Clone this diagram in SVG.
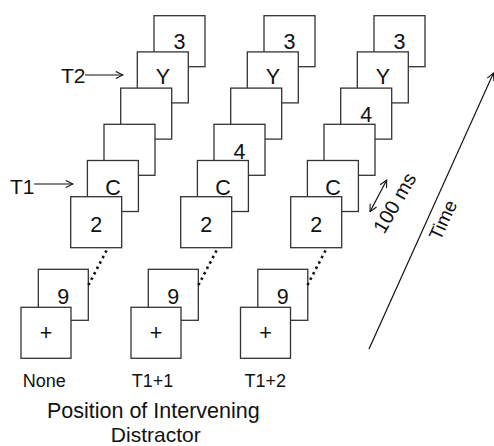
<svg xmlns="http://www.w3.org/2000/svg" width="494" height="446" viewBox="0 0 494 446">
<defs>
<style>
.box{fill:#fff;stroke:#333;stroke-width:1.3}
.lbl{font-family:"Liberation Sans",Arial,sans-serif;font-size:21.5px;fill:#111;text-anchor:middle}
.txt{font-family:"Liberation Sans",Arial,sans-serif;fill:#111}
.ln{stroke:#111;stroke-width:1.2;fill:none}
.dot{stroke:#111;stroke-width:2.6;stroke-dasharray:2.5 3.6;fill:none}
</style>
<marker id="oa" viewBox="0 0 10 10" refX="9" refY="5" markerWidth="9" markerHeight="9" markerUnits="userSpaceOnUse" orient="auto-start-reverse">
<path d="M1,1 L9,5 L1,9" fill="none" stroke="#111" stroke-width="1.2"/>
</marker>
</defs>
<rect width="494" height="446" fill="#fff"/>

<!-- Column 1 -->
<g id="col1">
<g id="c1-k5"><rect class="box" x="154" y="15.7" width="51" height="51"/><text class="lbl" x="179.5" y="48.7">3</text></g>
<g id="c1-k4"><rect class="box" x="137.3" y="51.9" width="51" height="51"/><text class="lbl" x="162.8" y="84.4">Y</text></g>
<g id="c1-k3"><rect class="box" x="120.7" y="88.1" width="51" height="51"/></g>
<g id="c1-k2"><rect class="box" x="104" y="124.3" width="51" height="51"/></g>
<g id="c1-k1"><rect class="box" x="87.4" y="160.5" width="51" height="51"/><text class="lbl" x="112.9" y="195">C</text></g>
<g id="c1-k0"><rect class="box" x="70.7" y="196.7" width="51" height="51"/><text class="lbl" x="96.2" y="231.5">2</text></g>
<g id="c1-nine"><rect class="box" x="38.3" y="269.3" width="50" height="51"/><text class="lbl" x="63.3" y="303.5">9</text></g>
<g id="c1-fix"><rect class="box" x="21" y="307.3" width="50" height="51"/><text class="lbl" x="46" y="340">+</text></g>
</g>

<!-- Column 2 -->
<g id="col2">
<g id="c2-k5"><rect class="box" x="264" y="15.7" width="51" height="51"/><text class="lbl" x="289.5" y="48.7">3</text></g>
<g id="c2-k4"><rect class="box" x="247.3" y="51.9" width="51" height="51"/><text class="lbl" x="272.8" y="84.4">Y</text></g>
<g id="c2-k3"><rect class="box" x="230.7" y="88.1" width="51" height="51"/></g>
<g id="c2-k2"><rect class="box" x="214" y="124.3" width="51" height="51"/><text class="lbl" x="239.5" y="158.6">4</text></g>
<g id="c2-k1"><rect class="box" x="197.4" y="160.5" width="51" height="51"/><text class="lbl" x="222.9" y="195">C</text></g>
<g id="c2-k0"><rect class="box" x="180.7" y="196.7" width="51" height="51"/><text class="lbl" x="206.2" y="231.5">2</text></g>
<g id="c2-nine"><rect class="box" x="148.3" y="269.3" width="50" height="51"/><text class="lbl" x="173.3" y="303.5">9</text></g>
<g id="c2-fix"><rect class="box" x="131" y="307.3" width="50" height="51"/><text class="lbl" x="156" y="340">+</text></g>
</g>

<!-- Column 3 -->
<g id="col3">
<g id="c3-k5"><rect class="box" x="374" y="15.7" width="51" height="51"/><text class="lbl" x="399.5" y="48.7">3</text></g>
<g id="c3-k4"><rect class="box" x="357.3" y="51.9" width="51" height="51"/><text class="lbl" x="382.8" y="84.4">Y</text></g>
<g id="c3-k3"><rect class="box" x="340.7" y="88.1" width="51" height="51"/><text class="lbl" x="366.2" y="122.4">4</text></g>
<g id="c3-k2"><rect class="box" x="324" y="124.3" width="51" height="51"/></g>
<g id="c3-k1"><rect class="box" x="307.4" y="160.5" width="51" height="51"/><text class="lbl" x="332.9" y="195">C</text></g>
<g id="c3-k0"><rect class="box" x="290.7" y="196.7" width="51" height="51"/><text class="lbl" x="316.2" y="231.5">2</text></g>
<g id="c3-nine"><rect class="box" x="257.8" y="269.3" width="50" height="51"/><text class="lbl" x="282.8" y="303.5">9</text></g>
<g id="c3-fix"><rect class="box" x="240.5" y="307.3" width="50" height="51"/><text class="lbl" x="265.5" y="340">+</text></g>
</g>

<!-- Connectors -->
<g id="connectors">
<line class="dot" x1="106.5" y1="250.5" x2="88.5" y2="285"/>
<line class="dot" x1="216.5" y1="250.5" x2="198.5" y2="285"/>
<line class="dot" x1="325.5" y1="250.5" x2="307.5" y2="285"/>
<line class="ln" x1="85" y1="75" x2="123" y2="75" marker-end="url(#oa)"/>
<line class="ln" x1="34" y1="184" x2="73" y2="184" marker-end="url(#oa)"/>
<line class="ln" x1="370" y1="211.7" x2="386.7" y2="180" marker-start="url(#oa)" marker-end="url(#oa)"/>
<line class="ln" x1="369" y1="349" x2="493.5" y2="73" marker-end="url(#oa)"/>
</g>

<!-- Labels -->
<g id="labels">
<text class="txt" x="85.5" y="83" font-size="21" text-anchor="end">T2</text>
<text class="txt" x="34.5" y="193.5" font-size="21" text-anchor="end">T1</text>
<text class="txt" transform="translate(395,203) rotate(-60)" x="0" y="6.5" font-size="20" text-anchor="middle">100 ms</text>
<text class="txt" transform="translate(443,220) rotate(-65.5)" x="0" y="6.5" font-size="19" text-anchor="middle">Time</text>
<text class="txt" x="44.2" y="386.7" font-size="18" text-anchor="middle">None</text>
<text class="txt" x="152.5" y="386.7" font-size="18" text-anchor="middle">T1+1</text>
<text class="txt" x="265.3" y="386.7" font-size="18" text-anchor="middle">T1+2</text>
<text class="txt" x="153.3" y="418.3" font-size="21.5" text-anchor="middle">Position of Intervening</text>
<text class="txt" x="155.8" y="441.8" font-size="21" text-anchor="middle">Distractor</text>
</g>
</svg>
